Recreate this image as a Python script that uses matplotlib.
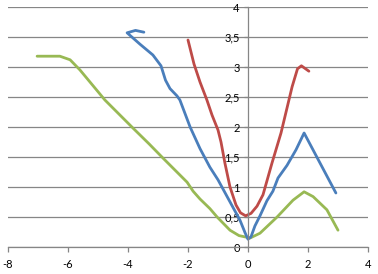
import matplotlib
matplotlib.use("Agg")
import matplotlib.pyplot as plt

# blue series
blue_x = [-3.47, -3.75, -4.03, -3.6, -3.17, -2.9, -2.75, -2.6, -2.37, -2.27, -1.93, -1.6,
          -1.27, -1.0, -0.5, -0.27, -0.1, 0.0, 0.1, 0.23, 0.4, 0.63, 0.83, 1.0, 1.3, 1.6, 1.87,
          2.93]
blue_y = [3.58, 3.61, 3.57, 3.38, 3.2, 3.02, 2.78, 2.64, 2.52, 2.45, 2.0, 1.64,
          1.33, 1.12, 0.66, 0.45, 0.24, 0.13, 0.17, 0.35, 0.52, 0.77, 0.93, 1.15, 1.36, 1.62, 1.9,
          0.9]

# red series
red_x = [-2.0, -1.8, -1.6, -1.37, -1.2, -1.0, -0.9, -0.77, -0.6, -0.4, -0.25, -0.08, 0.1,
         0.3, 0.5, 0.8, 1.1, 1.47, 1.65, 1.78, 2.03]
red_y = [3.45, 3.05, 2.75, 2.45, 2.2, 1.95, 1.75, 1.4, 1.0, 0.7, 0.57, 0.52, 0.56,
         0.68, 0.87, 1.4, 1.9, 2.67, 2.97, 3.02, 2.93]

# green series
green_x = [-7.03, -6.27, -5.93, -5.6, -4.77, -4.27, -3.83, -3.3, -2.83, -2.67, -2.03, -1.83,
           -1.6, -1.27, -1.03, -0.6, -0.3, 0.07, 0.4, 0.97, 1.5, 1.87, 2.17, 2.63, 3.0]
green_y = [3.18, 3.18, 3.12, 2.95, 2.45, 2.2, 1.98, 1.72, 1.48, 1.4, 1.08, 0.93,
           0.8, 0.64, 0.5, 0.28, 0.19, 0.15, 0.23, 0.5, 0.78, 0.92, 0.84, 0.62, 0.28]

x_ticks = [-8, -6, -4, -2, 0, 2, 4]
y_ticks = [0, 0.5, 1, 1.5, 2, 2.5, 3, 3.5, 4]
y_labels = ["0", "0,5", "1", "1,5", "2", "2,5", "3", "3,5", "4"]

grey = "#868686"
plt.rcParams["font.family"] = ["Lato", "DejaVu Sans"]

fig = plt.figure(figsize=(3.78, 2.74), dpi=100)
ax = fig.add_axes([8 / 378, 27 / 274, 360 / 378, 240 / 274])

ax.plot(green_x, green_y, color="#98B954", lw=2.0, solid_capstyle="round", solid_joinstyle="round")
ax.plot(blue_x, blue_y, color="#4A7EBB", lw=2.0, solid_capstyle="round", solid_joinstyle="round")
ax.plot(red_x, red_y, color="#BE4B48", lw=2.0, solid_capstyle="round", solid_joinstyle="round")

ax.set_xlim(-8, 4)
ax.set_ylim(0, 4)
ax.set_xticks(x_ticks)
ax.set_xticklabels([str(v) for v in x_ticks])
ax.set_yticks(y_ticks)
ax.set_yticklabels(y_labels)

ax.yaxis.grid(True, color=grey, lw=0.9)
ax.set_axisbelow(True)

ax.spines["top"].set_visible(False)
ax.spines["right"].set_visible(False)
ax.spines["left"].set_position(("data", 0))
ax.spines["left"].set_color(grey)
ax.spines["bottom"].set_color(grey)
ax.spines["left"].set_linewidth(0.9)
ax.spines["bottom"].set_linewidth(0.9)

ax.tick_params(axis="x", direction="out", length=3.5, width=0.9, color=grey,
               labelsize=8, pad=5)
ax.tick_params(axis="y", direction="out", length=3, width=0.9, color=grey,
               labelsize=8, pad=3)

fig.savefig("out.png", dpi=100)
